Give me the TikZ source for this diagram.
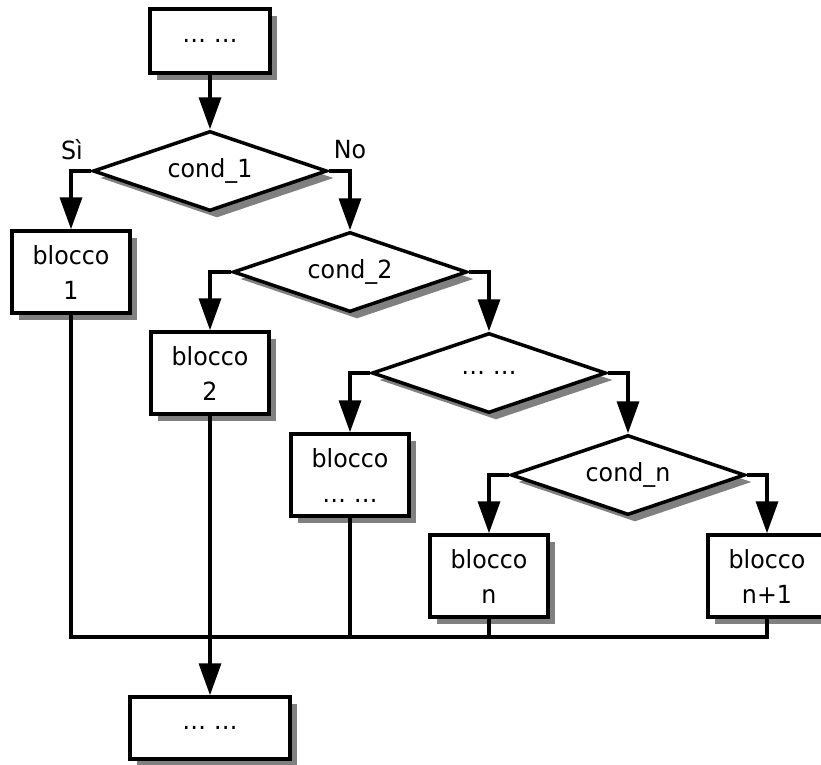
\documentclass[tikz,border=0pt]{standalone}
\usepackage{fontspec}
\setmainfont{DejaVu Sans}[FakeStretch=0.95]
\usetikzlibrary{shapes.geometric,arrows.meta,shadows}
\begin{document}
\begin{tikzpicture}[x=1pt,y=-1pt,
  every node/.style={font=\fontsize{25}{35}\selectfont},
  shad/.style={drop shadow={fill=black!50,opacity=1,shadow xshift=7pt,shadow yshift=-7pt}},
  blk/.style={draw,fill=white,line width=3.5pt,minimum width=118pt,minimum height=82pt,inner sep=0pt,align=center,shad},
  cnd/.style={draw,fill=white,diamond,aspect=2.925,line width=3.5pt,minimum width=234pt,minimum height=80pt,inner sep=0pt,shad},
  conn/.style={line width=3.5pt},
  arr/.style={conn,-{Triangle[width=22pt,length=32pt]}},
  lbl/.style={inner sep=0pt}]
\path[use as bounding box,fill=white] (0,0) rectangle (821,764);

\node[blk,minimum width=120pt,minimum height=64pt] (top) at (210,41) {… …};
\node[cnd] (d1) at (210,171) {cond\_1};
\node[blk] (b1) at (71,272) {blocco\\1};
\node[cnd] (d2) at (350,272) {cond\_2};
\node[blk] (b2) at (210,373) {blocco\\2};
\node[cnd] (d3) at (489,373) {… …};
\node[blk] (b3) at (350,475) {blocco\\… …};
\node[cnd] (d4) at (628,475) {cond\_n};
\node[blk] (bn) at (489,576) {blocco\\n};
\node[blk] (bn1) at (767,576) {blocco\\n+1};
\node[blk,minimum width=160pt,minimum height=62pt] (bot) at (210,728) {… …};

\node[lbl] (si) at (72,150) {Sì};
\node[lbl] (no) at (350,150) {No};

\coordinate (m) at (210,637);

\draw[arr] (top.south) -- (d1.north);
\draw[arr] (d1.west) -| (b1.north);
\draw[arr] (d1.east) -| (d2.north);
\draw[arr] (d2.west) -| (b2.north);
\draw[arr] (d2.east) -| (d3.north);
\draw[arr] (d3.west) -| (b3.north);
\draw[arr] (d3.east) -| (d4.north);
\draw[arr] (d4.west) -| (bn.north);
\draw[arr] (d4.east) -| (bn1.north);

\draw[conn] (b1.south) |- (m);
\draw[conn] (bn1.south) |- (m);
\draw[conn] (b3.south) -- (b3.south |- m);
\draw[conn] (bn.south) -- (bn.south |- m);
\draw[arr] (b2.south) -- (bot.north);
\end{tikzpicture}
\end{document}
